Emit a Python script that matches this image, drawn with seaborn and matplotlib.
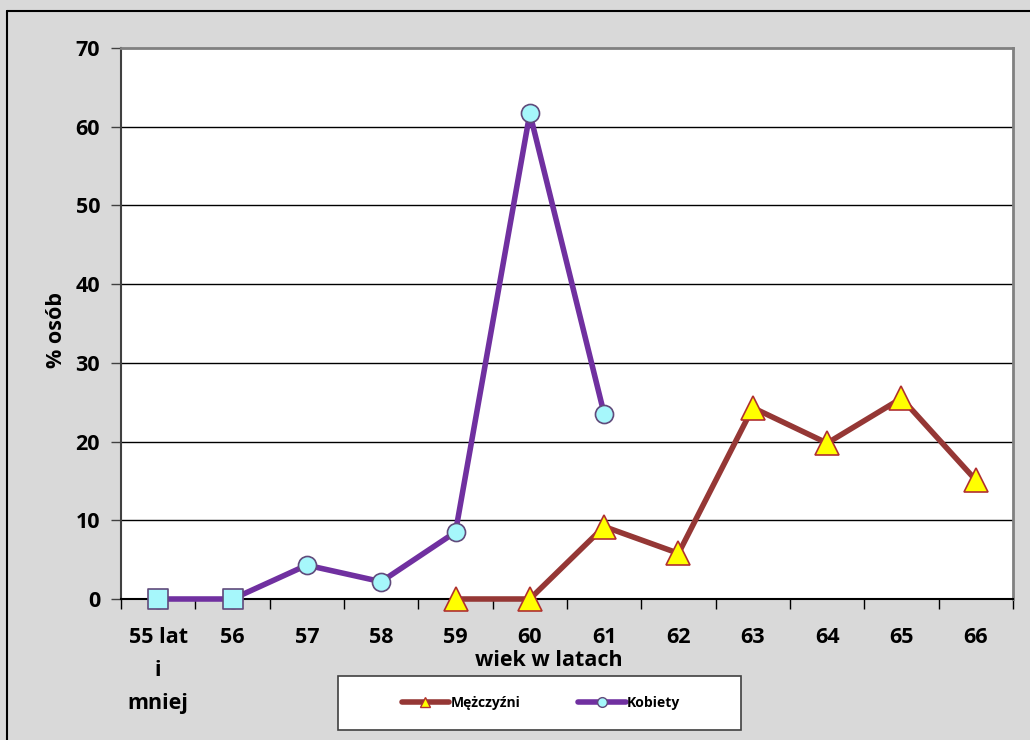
import matplotlib
matplotlib.use("Agg")
import matplotlib.pyplot as plt
import seaborn as sns
import pandas as pd
from matplotlib.patches import Rectangle
from matplotlib.lines import Line2D

categories = ["55 lat\ni\nmniej", "56", "57", "58", "59", "60", "61", "62", "63", "64", "65", "66"]
kobiety_cats = ["55 lat\ni\nmniej", "56", "57", "58", "59", "60", "61"]
kobiety_vals = [0.0, 0.0, 4.3, 2.2, 8.5, 61.7, 23.5]
mezczyzni_cats = ["59", "60", "61", "62", "63", "64", "65", "66"]
mezczyzni_vals = [0.0, 0.0, 9.2, 5.8, 24.3, 19.8, 25.5, 15.1]
yticks = [0, 10, 20, 30, 40, 50, 60, 70]

sns.set_theme(style="white")
FAM = ['Open Sans', 'DejaVu Sans']
plt.rcParams['font.family'] = FAM
plt.rcParams['font.weight'] = 'bold'
plt.rcParams['text.color'] = 'black'
plt.rcParams['xtick.labelcolor'] = 'black'
plt.rcParams['ytick.labelcolor'] = 'black'

pos = {c: i for i, c in enumerate(categories)}
dk = pd.DataFrame({"x": [pos[c] for c in kobiety_cats], "y": kobiety_vals})
dm = pd.DataFrame({"x": [pos[c] for c in mezczyzni_cats], "y": mezczyzni_vals})

BG = "#d9d9d9"
MEN = "#953735"
WOM = "#7030a0"
CYAN = "#a6f7fb"

fig = plt.figure(figsize=(10.3, 7.4), dpi=100, facecolor=BG)
ax = fig.add_axes([121/1030, 1-599/740, (1013-121)/1030, (599-48)/740])
ax.set_facecolor("white")

# frame around figure
fig.add_artist(Line2D([7/1030, 7/1030], [0, 1-11/740], transform=fig.transFigure, color="black", lw=1.5))
fig.add_artist(Line2D([7/1030, 1], [1-11/740, 1-11/740], transform=fig.transFigure, color="black", lw=1.5))

for v in yticks[1:-1]:
    ax.axhline(v, color="black", lw=1, zorder=1)

sns.lineplot(data=dm, x="x", y="y", ax=ax, color=MEN, lw=4, sort=False, zorder=7, clip_on=False,
             marker="^", markersize=17, markerfacecolor="#ffff00", markeredgecolor="#b03030",
             markeredgewidth=1.2)
sns.lineplot(data=dk, x="x", y="y", ax=ax, color=WOM, lw=4, sort=False, zorder=8, clip_on=False,
             marker="o", markersize=13, markerfacecolor=CYAN, markeredgecolor="#604a7b",
             markeredgewidth=1.2)
sq = dk.iloc[:2]
sns.scatterplot(data=sq, x="x", y="y", ax=ax, marker="s", s=210, color=CYAN,
                edgecolor="#604a7b", linewidth=1.2, zorder=9, clip_on=False)

ax.set_xlim(-0.5, len(categories) - 0.5)
ax.set_ylim(0, 70)
ax.set_yticks(yticks)
ax.set_yticklabels([str(v) for v in yticks], fontsize=15.5, fontweight="bold", color="black")
ax.set_xticks(range(len(categories)))
ax.set_xticklabels(categories, fontsize=15.5, fontweight="bold", linespacing=1.75, va="top", color="black")
ax.set_xticks([i - 0.5 for i in range(len(categories) + 1)], minor=True)
ax.tick_params(axis="x", which="major", length=0, pad=20)
ax.tick_params(axis="x", which="minor", length=7, width=1, color="black", direction="out", bottom=True)
ax.tick_params(axis="y", length=7, width=1, color="#404040", direction="out", left=True, pad=8)
ax.set_xlabel("")
ax.set_ylabel("")

for s in ["top", "right"]:
    ax.spines[s].set_color("#808080")
    ax.spines[s].set_linewidth(2)
ax.spines["left"].set_color("#404040")
ax.spines["left"].set_linewidth(1.5)
ax.spines["bottom"].set_color("black")
ax.spines["bottom"].set_linewidth(1.5)

fig.text(549/1030, 1-661/740, "wiek w latach", ha="center", va="center", fontsize=15.5, fontweight="bold", color="black")
fig.text(57/1030, 1-330/740, "% osób", ha="center", va="center", rotation=90, fontsize=15.5, fontweight="bold", color="black")

# legend box
fig.add_artist(Rectangle((338/1030, 1-730/740), (741-338)/1030, (730-676)/740,
                         transform=fig.transFigure, facecolor="white", edgecolor="#404040", lw=1.2))
handles = [
    Line2D([], [], color=MEN, lw=4, marker="^", markersize=7, markerfacecolor="#ffff00",
           markeredgecolor="#b03030"),
    Line2D([], [], color=WOM, lw=4, marker="o", markersize=7, markerfacecolor=CYAN,
           markeredgecolor="#604a7b"),
]
leg = fig.legend(handles, ["Mężczyźni", "Kobiety"], loc="center", bbox_to_anchor=(541/1030, 1-703/740),
                 ncol=2, frameon=False, prop={"size": 10, "weight": "bold", "family": FAM},
                 handlelength=3.4, handletextpad=0.1, columnspacing=4.2)
for t in leg.get_texts():
    t.set_color("black")

fig.savefig("out.png", dpi=100, facecolor=BG)
